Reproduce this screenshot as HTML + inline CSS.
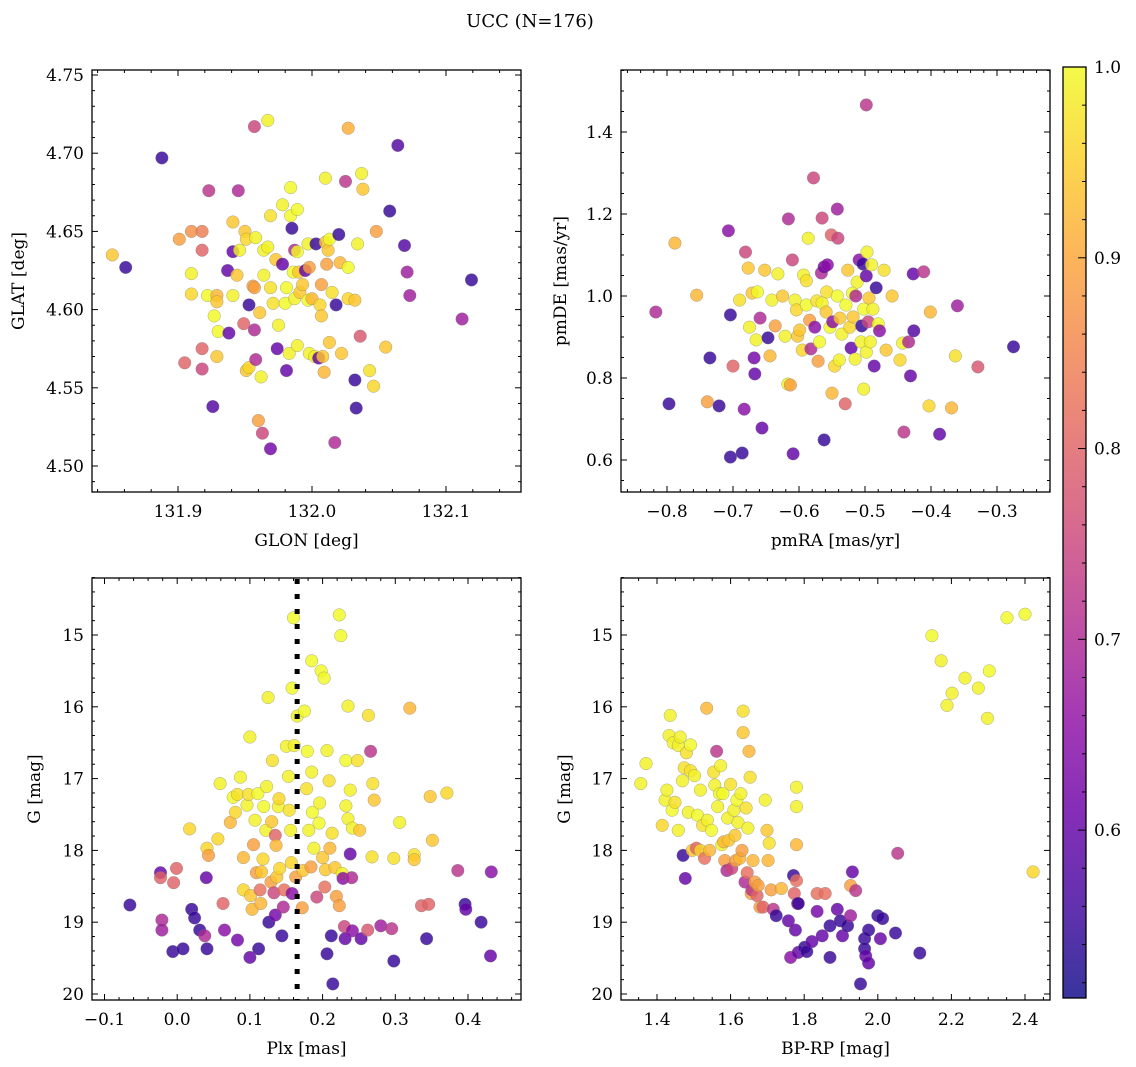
<!DOCTYPE html>
<html><head><meta charset="utf-8"><style>
html,body{margin:0;padding:0;background:#fff;}
svg{display:block;font-family:"DejaVu Serif","Liberation Serif",serif;}
</style></head><body>
<svg id="chart" width="1136" height="1067" viewBox="0 0 1136 1067" xmlns="http://www.w3.org/2000/svg">
<text x="530" y="27" font-size="18" text-anchor="middle">UCC (N=176)</text>
</svg>
<script>
// ---- data (value units) ----
const p1Lon=[131.851,131.861,131.888,131.901,131.905,131.910,131.910,131.910,131.918,131.918,131.918,131.918,131.923,131.922,131.926,131.927,131.929,131.929,131.929,131.930,131.937,131.938,131.941,131.941,131.941,131.944,131.945,131.946,131.949,131.950,131.951,131.951,131.953,131.953,131.956,131.957,131.957,131.957,131.958,131.958,131.960,131.961,131.962,131.963,131.964,131.964,131.967,131.967,131.969,131.969,131.969,131.971,131.973,131.974,131.975,131.978,131.978,131.980,131.981,131.981,131.983,131.984,131.984,131.985,131.986,131.987,131.987,131.989,131.989,131.989,131.990,131.991,131.993,131.995,131.997,131.997,131.998,131.998,132.000,132.002,132.003,132.005,132.006,132.007,132.007,132.008,132.009,132.010,132.010,132.011,132.012,132.013,132.013,132.015,132.017,132.018,132.020,132.021,132.022,132.025,132.027,132.027,132.027,132.032,132.032,132.033,132.034,132.036,132.037,132.038,132.043,132.046,132.048,132.055,132.058,132.064,132.069,132.071,132.073,132.112,132.119];
const p1Lat=[4.635,4.627,4.697,4.645,4.566,4.650,4.623,4.610,4.562,4.575,4.638,4.650,4.676,4.609,4.538,4.596,4.609,4.605,4.570,4.586,4.625,4.585,4.637,4.656,4.609,4.622,4.676,4.638,4.591,4.650,4.645,4.561,4.563,4.603,4.615,4.587,4.717,4.614,4.568,4.646,4.529,4.598,4.557,4.521,4.622,4.638,4.721,4.640,4.511,4.660,4.614,4.604,4.632,4.575,4.590,4.667,4.629,4.604,4.614,4.561,4.572,4.660,4.678,4.652,4.624,4.607,4.638,4.577,4.664,4.637,4.624,4.611,4.616,4.625,4.642,4.606,4.572,4.627,4.607,4.570,4.642,4.569,4.603,4.596,4.616,4.570,4.560,4.684,4.643,4.629,4.638,4.645,4.579,4.611,4.515,4.603,4.648,4.630,4.572,4.682,4.716,4.607,4.627,4.606,4.555,4.537,4.642,4.583,4.687,4.677,4.561,4.551,4.650,4.576,4.663,4.705,4.641,4.624,4.609,4.594,4.619];
const p1Prob=[.94,.55,.55,.89,.8,.87,.99,.96,.75,.8,.8,.84,.72,1,.58,1,.92,.94,.94,1,.6,.6,.6,.94,.99,.94,.7,.99,.8,.94,.96,.94,.96,.55,.89,.7,.75,.89,.7,.99,.89,.94,.99,.75,.99,.99,.99,.99,.62,.97,.97,.97,.94,.6,.99,.99,.6,1,1,.6,.99,1,1,.55,1,.99,.7,.99,1,1,.94,.94,.94,.6,.99,1,.99,.89,.92,.99,.55,.6,.96,.94,.89,.94,.92,.99,.94,.89,.94,1,.94,.97,.7,.55,.55,.92,.94,.72,.91,.96,1,.94,.55,.55,.99,.78,.99,.94,.97,.96,.89,.94,.55,.58,.58,.68,.68,.68,.55];

const p2RA=[-0.817,-0.788,-0.797,-0.755,-0.739,-0.735,-0.721,-0.707,-0.704,-0.704,-0.700,-0.690,-0.686,-0.683,-0.681,-0.677,-0.675,-0.671,-0.668,-0.667,-0.665,-0.663,-0.659,-0.656,-0.652,-0.647,-0.644,-0.641,-0.636,-0.632,-0.625,-0.621,-0.617,-0.616,-0.613,-0.610,-0.609,-0.606,-0.604,-0.602,-0.599,-0.595,-0.593,-0.589,-0.589,-0.586,-0.584,-0.582,-0.578,-0.576,-0.573,-0.571,-0.569,-0.566,-0.565,-0.565,-0.562,-0.562,-0.559,-0.558,-0.557,-0.553,-0.551,-0.550,-0.549,-0.546,-0.542,-0.542,-0.541,-0.539,-0.538,-0.535,-0.530,-0.529,-0.526,-0.523,-0.521,-0.519,-0.518,-0.515,-0.514,-0.512,-0.509,-0.506,-0.505,-0.503,-0.502,-0.498,-0.498,-0.498,-0.497,-0.495,-0.494,-0.502,-0.492,-0.490,-0.488,-0.486,-0.483,-0.480,-0.478,-0.471,-0.468,-0.459,-0.447,-0.443,-0.434,-0.426,-0.431,-0.441,-0.427,-0.411,-0.401,-0.403,-0.387,-0.360,-0.369,-0.363,-0.329,-0.275];
const p2DE=[0.961,1.129,0.737,1.002,0.742,0.849,0.732,1.159,0.954,0.607,0.829,0.990,0.617,0.724,1.107,1.068,0.924,1.007,0.849,0.810,0.893,1.010,0.946,0.678,1.063,0.898,0.854,0.990,0.927,1.054,1.000,0.902,0.785,1.188,0.783,1.088,0.615,0.990,0.966,0.902,0.917,0.868,1.051,1.037,0.978,1.141,0.941,0.871,1.288,0.924,0.988,0.841,0.888,1.056,1.190,0.983,0.649,1.071,0.961,1.010,1.076,0.924,1.149,0.763,0.937,0.829,1.212,1.000,1.141,0.844,0.946,0.907,0.737,0.978,1.063,0.924,0.873,1.007,0.949,0.846,1.000,1.034,1.088,0.888,0.927,1.078,0.968,1.466,0.863,1.049,1.107,0.937,0.995,0.773,0.888,1.076,0.968,0.829,1.020,0.932,0.915,1.063,0.868,1.000,0.844,0.885,0.888,0.915,0.805,0.668,1.054,1.059,0.961,0.732,0.663,0.976,0.727,0.854,0.827,0.876];
const p2Prob=[.7,.92,.55,.92,.89,.55,.55,.65,.55,.55,.8,.97,.55,.65,.75,.94,.99,.94,.62,.6,.99,1,.7,.6,.94,.55,.92,.99,.89,.99,.94,.99,.99,.7,.89,.75,.6,.99,.96,.94,.94,.96,.99,.97,1,.99,.89,.7,.75,.65,.97,.89,1,.7,.75,.99,.55,.62,.94,.97,.65,1,.8,.92,.65,.96,.68,1,.75,.99,.94,.99,.8,1,.94,.96,.6,1,.94,.99,.7,.99,.65,.99,.55,.55,1,.72,.99,.6,.99,.75,.94,.99,.99,.99,.99,.6,.55,1,.65,.97,.94,.94,.96,.99,.7,.58,.6,.72,.6,.72,.92,.96,.6,.68,.92,.97,.78,.55];

const p3Plx=[-0.065,-0.023,-0.023,-0.021,-0.021,-0.005,-0.001,-0.006,0.008,0.017,0.020,0.024,0.031,0.038,0.040,0.041,0.043,0.041,0.056,0.063,0.065,0.059,0.073,0.077,0.080,0.083,0.083,0.087,0.091,0.091,0.096,0.098,0.100,0.100,0.101,0.103,0.105,0.107,0.109,0.111,0.112,0.114,0.115,0.116,0.118,0.119,0.122,0.123,0.125,0.126,0.129,0.130,0.131,0.133,0.135,0.135,0.136,0.137,0.139,0.140,0.141,0.144,0.146,0.147,0.150,0.153,0.154,0.156,0.157,0.158,0.158,0.160,0.161,0.163,0.165,0.172,0.173,0.175,0.178,0.179,0.181,0.184,0.185,0.185,0.186,0.188,0.192,0.195,0.196,0.198,0.200,0.202,0.203,0.204,0.206,0.206,0.209,0.210,0.212,0.213,0.214,0.217,0.219,0.223,0.223,0.225,0.227,0.228,0.230,0.231,0.232,0.232,0.235,0.235,0.238,0.240,0.241,0.238,0.241,0.248,0.251,0.253,0.262,0.263,0.266,0.268,0.269,0.271,0.280,0.295,0.298,0.298,0.306,0.320,0.326,0.326,0.336,0.343,0.346,0.348,0.351,0.371,0.386,0.396,0.397,0.418,0.431,0.432];
const p3G=[18.76,18.31,18.38,18.97,19.11,18.45,18.25,19.41,19.37,17.70,18.82,18.94,19.11,19.19,18.38,17.97,18.07,19.37,17.84,18.74,19.11,17.07,17.61,17.26,17.47,17.22,19.25,16.98,18.10,18.55,17.37,17.22,19.49,16.42,18.63,18.82,17.92,17.58,18.31,17.21,19.37,18.55,18.74,18.30,18.12,17.39,17.72,17.11,15.87,19.00,18.44,17.60,16.75,18.59,17.79,18.90,17.93,18.37,17.39,17.28,18.25,19.19,18.79,18.55,16.55,16.97,17.44,17.72,18.17,18.60,15.74,14.76,16.54,18.37,16.13,18.80,18.28,16.06,17.14,16.62,17.72,18.23,15.36,16.91,17.47,17.97,18.65,17.62,17.34,15.50,18.10,15.60,18.51,18.27,16.61,19.44,17.03,17.97,19.19,17.76,19.86,18.24,18.64,18.77,14.72,15.01,18.32,18.39,19.06,19.23,16.75,17.38,15.99,17.56,18.05,18.38,19.12,17.16,17.69,16.75,17.72,19.23,19.11,16.12,16.62,18.09,17.07,17.30,19.05,19.09,19.54,18.11,17.61,16.02,18.06,18.13,18.77,19.23,18.75,17.25,17.86,17.20,18.28,18.75,18.82,19.00,19.47,18.30];
const p3Prob=[.55,.6,.8,.7,.68,.8,.8,.55,.55,.96,.55,.55,.55,.7,.6,.96,.89,.55,.96,.8,.65,.99,.92,1,.96,.97,.62,.99,.92,.96,.99,.97,.6,.99,.94,.92,.89,.99,.89,1,.55,.82,.92,.94,.96,1,.99,.99,.99,.55,.89,.94,.97,.75,.8,.62,.92,.94,.99,.96,.96,.55,.7,.82,.99,.99,.97,.99,.96,.65,1,1,.99,.89,.99,.89,.94,1,.97,1,.99,.89,1,.99,1,.99,.75,1,.99,1,.94,1,.82,.94,.99,.55,.97,.92,.55,.97,.55,.94,.89,.89,1,1,.99,.65,.75,.6,1,.99,.99,.99,.6,.7,.65,.99,.99,.97,.94,.6,.78,.97,.72,.97,.97,.94,.68,.72,.55,.97,.99,.92,.97,.94,.8,.55,.8,.94,.94,.96,.72,.55,.6,.55,.6,.65];
const p3Threshold=[0.165];

const p4BPRP=[1.356,1.370,1.414,1.422,1.427,1.433,1.436,1.441,1.444,1.449,1.458,1.458,1.463,1.469,1.471,1.477,1.474,1.480,1.485,1.491,1.491,1.496,1.502,1.507,1.510,1.518,1.518,1.524,1.529,1.535,1.537,1.543,1.548,1.554,1.557,1.562,1.565,1.570,1.573,1.576,1.581,1.579,1.584,1.590,1.592,1.595,1.600,1.603,1.609,1.612,1.614,1.617,1.620,1.625,1.628,1.631,1.634,1.634,1.639,1.642,1.645,1.647,1.650,1.653,1.656,1.658,1.661,1.666,1.672,1.675,1.680,1.688,1.694,1.699,1.702,1.705,1.710,1.716,1.724,1.738,1.757,1.771,1.773,1.776,1.779,1.782,1.784,1.779,1.779,1.779,1.763,1.784,1.801,1.807,1.821,1.835,1.835,1.849,1.857,1.870,1.870,1.890,1.898,1.904,1.918,1.926,1.931,1.926,1.940,1.953,1.964,1.964,1.967,1.975,1.975,2.000,2.007,2.013,2.048,2.054,2.114,2.147,2.172,2.188,2.202,2.237,2.273,2.298,2.303,2.351,2.400,2.422];
const p4G=[17.07,16.79,17.65,17.30,17.16,16.40,16.12,17.44,16.50,17.33,16.54,17.72,16.42,17.03,18.07,18.39,16.85,16.64,17.47,16.89,16.53,18.00,16.96,17.97,17.51,17.16,18.00,17.65,18.11,16.02,17.58,18.00,17.72,16.91,17.09,16.62,17.39,17.21,16.82,17.92,17.88,17.21,18.14,18.28,17.55,17.86,17.08,18.25,17.44,17.79,18.14,17.30,17.61,18.11,17.21,18.00,16.06,16.36,18.44,17.41,18.31,17.69,16.62,16.98,18.60,18.55,18.14,18.44,18.63,18.49,18.79,18.79,17.30,17.72,18.14,17.90,18.55,18.82,18.91,18.53,18.98,18.35,18.60,19.11,18.42,18.74,18.74,17.92,17.12,17.39,19.49,19.42,19.35,19.41,19.27,18.85,18.60,19.19,18.60,19.49,19.05,18.82,18.98,19.19,19.05,18.91,18.30,18.49,18.56,19.86,19.23,19.37,19.47,19.11,19.57,18.91,19.23,18.95,19.15,18.04,19.43,15.01,15.36,15.98,15.81,15.60,15.74,16.16,15.50,14.76,14.71,18.30];
const p4Prob=[.99,.99,.96,.99,.99,.99,.99,1,.99,.97,.99,.99,.99,.99,.55,.6,.97,.97,.99,.97,1,.94,.99,.8,1,.99,.96,.97,.82,.92,.99,.92,1,.97,.99,.72,.99,1,.99,.99,.92,1,.89,.7,.99,.94,.97,.75,.99,.94,.89,1,.99,.92,.99,.89,.97,.94,.7,.97,.82,.99,.92,.97,.89,.72,.92,.89,.8,.89,.89,.8,.99,.94,.92,.97,.89,.72,.55,.92,.6,.55,.8,.6,.82,.7,.55,.92,.99,.99,.65,.6,.55,.55,.6,.62,.82,.6,.82,.55,.55,.6,.55,.6,.55,.68,.6,.89,.72,.55,.55,.55,.6,.55,.6,.55,.6,.55,.55,.72,.55,1,.99,.99,.99,.99,.99,.99,1,1,1,.96];

const cbTicks=[0.6,0.7,0.8,0.9,1.0];
const cbMin=0.512, cbMax=1.0;

// ---- helpers ----
const NS='http://www.w3.org/2000/svg';
const svg=document.getElementById('chart');
function mk(tag,attrs,parent){const e=document.createElementNS(NS,tag);for(const k in attrs)e.setAttribute(k,attrs[k]);(parent||svg).appendChild(e);return e;}
const plasma=['#0d0887','#41049d','#6a00a8','#8f0da4','#b12a90','#cc4778','#e16462','#f2844b','#fca636','#fcce25','#f0f921'];
function hex(h){return [1,3,5].map(i=>parseInt(h.substr(i,2),16));}
function cmap(v){let t=(v-cbMin)/(cbMax-cbMin);t=Math.max(0,Math.min(1,t));const s=t*10,i=Math.min(9,Math.floor(s)),f=s-i;const a=hex(plasma[i]),b=hex(plasma[i+1]);return 'rgb('+a.map((c,k)=>Math.round(c+(b[k]-c)*f)).join(',')+')';}
function linear(d0,d1,r0,r1){return v=>r0+(v-d0)*(r1-r0)/(d1-d0);}
function fmt(v,dec){return v.toFixed(dec).replace('-','\u2212');}

function panel(cfg){
  const g=mk('g',{});
  
  
  const {x0,x1,y0,y1}=cfg.box;
  const sx=linear(cfg.xd[0],cfg.xd[1],cfg.xr[0],cfg.xr[1]);
  const sy=linear(cfg.yd[0],cfg.yd[1],cfg.yr[0],cfg.yr[1]);
  const pts=mk('g',{},g);
  
  
  for(let i=0;i<cfg.xs.length;i++){
    const c=mk('circle',{cx:sx(cfg.xs[i]).toFixed(1),cy:sy(cfg.ys[i]).toFixed(1),r:6.3,fill:cmap(cfg.ps[i]),'fill-opacity':0.82,stroke:'#777','stroke-width':0.5,'stroke-opacity':0.6},pts);
    
    
  }
  if(cfg.vline){cfg.vline.forEach(v=>{const l=mk('line',{x1:sx(v),x2:sx(v),y1:y0+1,y2:y1,stroke:'#000','stroke-width':5,'stroke-dasharray':'5 10'},g);
    
    });}
  const fr=mk('rect',{x:x0,y:y0,width:x1-x0,height:y1-y0,fill:'none',stroke:'#000','stroke-width':1.3},g);
  
  
  const xt=mk('g',{},g);
  const nx=Math.round((cfg.xtEnd-cfg.xtStart)/cfg.xMinor);
  for(let k=0;k<=nx;k++){const v=cfg.xtStart+k*cfg.xMinor;const px=sx(v);if(px<x0-0.5||px>x1+0.5)continue;
    const major=Math.abs(v/cfg.xMajor-Math.round(v/cfg.xMajor))<1e-6;const L=major?6:3;
    mk('line',{x1:px,x2:px,y1:y1,y2:y1-L,stroke:'#000','stroke-width':1},xt);
    mk('line',{x1:px,x2:px,y1:y0,y2:y0+L,stroke:'#000','stroke-width':1},xt);
    if(major){const t=mk('text',{x:px,y:y1+25,'font-size':17,'text-anchor':'middle'},xt);t.textContent=fmt(v,cfg.xDec);}}
  const yt=mk('g',{},g);
  const ny=Math.round((cfg.ytEnd-cfg.ytStart)/cfg.yMinor);
  for(let k=0;k<=ny;k++){const v=cfg.ytStart+k*cfg.yMinor;const py=sy(v);if(py<y0-0.5||py>y1+0.5)continue;
    const major=Math.abs(v/cfg.yMajor-Math.round(v/cfg.yMajor))<1e-6;const L=major?6:3;
    mk('line',{x1:x0,x2:x0+L,y1:py,y2:py,stroke:'#000','stroke-width':1},yt);
    mk('line',{x1:x1,x2:x1-L,y1:py,y2:py,stroke:'#000','stroke-width':1},yt);
    if(major){const t=mk('text',{x:x0-8,y:py+6,'font-size':17,'text-anchor':'end'},yt);t.textContent=fmt(v,cfg.yDec);}}
  const xl=mk('text',{x:(x0+x1)/2,y:y1+54,'font-size':17,'text-anchor':'middle'},g);xl.textContent=cfg.xlabel;
  
  const yx=cfg.ylabX;const yy=(y0+y1)/2;
  const yl=mk('text',{x:yx,y:yy,'font-size':17,'text-anchor':'middle',transform:'rotate(-90 '+yx+' '+yy+')'},g);yl.textContent=cfg.ylabel;
  
}

panel({name:'glon-glat-panel',box:{x0:92,x1:521,y0:70,y1:492},xd:[131.9,132.1],xr:[178,446],yd:[4.75,4.50],yr:[75,466],
  xs:p1Lon,ys:p1Lat,ps:p1Prob,xtStart:131.8,xtEnd:132.2,xMinor:0.02,xMajor:0.1,xDec:1,ytStart:4.45,ytEnd:4.8,yMinor:0.01,yMajor:0.05,yDec:2,
  xlabel:'GLON [deg]',ylabel:'GLAT [deg]',ylabX:24});
panel({name:'proper-motion-panel',box:{x0:621,x1:1050,y0:70,y1:492},xd:[-0.8,-0.3],xr:[667,997],yd:[1.4,0.6],yr:[132,460],
  xs:p2RA,ys:p2DE,ps:p2Prob,xtStart:-0.9,xtEnd:-0.2,xMinor:0.02,xMajor:0.1,xDec:1,ytStart:0.4,ytEnd:1.6,yMinor:0.05,yMajor:0.2,yDec:1,
  xlabel:'pmRA [mas/yr]',ylabel:'pmDE [mas/yr]',ylabX:566});
panel({name:'parallax-panel',box:{x0:92,x1:521,y0:578,y1:1000},xd:[-0.1,0.4],xr:[104.5,468],yd:[15,20],yr:[635,994],
  xs:p3Plx,ys:p3G,ps:p3Prob,vline:p3Threshold,xtStart:-0.2,xtEnd:0.5,xMinor:0.02,xMajor:0.1,xDec:1,ytStart:14,ytEnd:21,yMinor:0.2,yMajor:1,yDec:0,
  xlabel:'Plx [mas]',ylabel:'G [mag]',ylabX:40});
panel({name:'cmd-panel',box:{x0:621,x1:1050,y0:578,y1:1000},xd:[1.4,2.4],xr:[657,1025],yd:[15,20],yr:[635,994],
  xs:p4BPRP,ys:p4G,ps:p4Prob,xtStart:1.2,xtEnd:2.6,xMinor:0.05,xMajor:0.2,xDec:1,ytStart:14,ytEnd:21,yMinor:0.2,yMajor:1,yDec:0,
  xlabel:'BP-RP [mag]',ylabel:'G [mag]',ylabX:570});

// ---- colorbar ----
const cb=mk('g',{});
const defs=mk('defs',{},svg);const grad=mk('linearGradient',{id:'pl',x1:0,y1:1,x2:0,y2:0},defs);
plasma.forEach((c,i)=>mk('stop',{offset:(i*10)+'%','stop-color':c,'stop-opacity':0.82},grad));
const cbY0=67,cbY1=998,cbX0=1063,cbX1=1086;
const cs=linear(cbMin,cbMax,cbY1,cbY0);
mk('rect',{x:cbX0,y:cbY0,width:cbX1-cbX0,height:cbY1-cbY0,fill:'url(#pl)',stroke:'#000','stroke-width':1.3},cb);
for(let k=0;k<=30;k++){const v=0.5+k*0.02;const py=cs(v);if(py<cbY0||py>cbY1)continue;
  const major=Math.abs(v*10-Math.round(v*10))<1e-6;const L=major?8:4;
  mk('line',{x1:cbX1-L,x2:cbX1,y1:py,y2:py,stroke:'#000','stroke-width':1},cb);}
cbTicks.forEach(v=>{const t=mk('text',{x:cbX1+8,y:cs(v)+6,'font-size':17},cb);t.textContent=v.toFixed(1);
  });
</script>
</body></html>
